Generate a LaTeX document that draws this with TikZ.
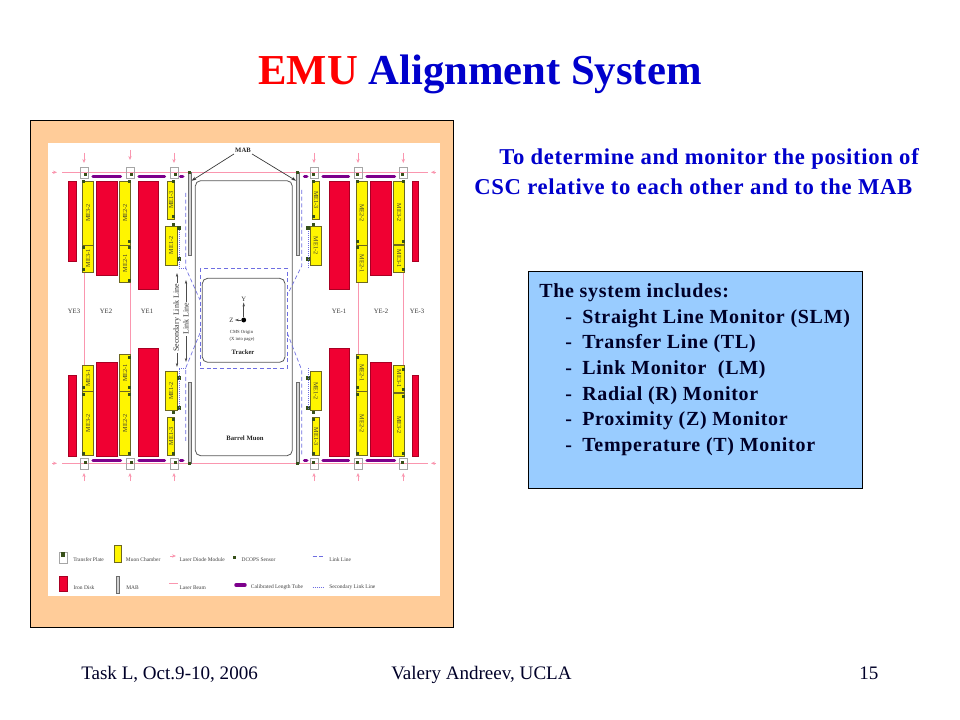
\documentclass[tikz,border=0pt]{standalone}
\usepackage{fontspec}
\setmainfont{Liberation Serif}
\usetikzlibrary{arrows.meta}
\definecolor{panelorange}{RGB}{255,204,153}
\definecolor{boxblue}{RGB}{153,204,255}
\definecolor{titlered}{RGB}{255,0,0}
\definecolor{titleblue}{RGB}{0,0,204}
\definecolor{inknavy}{RGB}{0,0,40}
\definecolor{diskred}{RGB}{240,0,50}
\definecolor{chamberyellow}{RGB}{255,245,0}
\definecolor{tubepurple}{RGB}{125,0,140}
\definecolor{beampink}{RGB}{250,150,175}
\definecolor{sensorgreen}{RGB}{55,80,25}
\definecolor{linkblue}{RGB}{110,110,225}
\tikzset{
  ironDisk/.style={fill=diskred,draw=diskred!70!black,line width=0.3pt},
  muonChamber/.style={fill=chamberyellow,draw=olive!70!black,line width=0.4pt},
  lengthTube/.style={draw=tubepurple,line width=2.6pt,line cap=round},
  laserBeam/.style={draw=beampink,line width=0.7pt},
  laserArrow/.style={draw=beampink,line width=0.7pt,-{Stealth[length=3pt,width=2.5pt]}},
  sensorSq/.style={fill=sensorgreen,draw=none},
  mabBar/.style={fill=gray!35,draw=gray!85!black,line width=0.4pt},
  plateBox/.style={draw=gray!70,line width=0.3pt},
  linkLine/.style={draw=linkblue,line width=0.5pt,densely dashed},
  secLine/.style={draw=linkblue,line width=0.5pt,densely dotted},
  wallBox/.style={draw=black!65,line width=0.6pt,rounded corners=4pt},
  tinyText/.style={inner sep=0pt,text=black!75,font=\fontsize{4.1}{5}\selectfont},
  originText/.style={inner sep=0pt,text=black!80,font=\fontsize{3.5}{4}\selectfont},
  smallText/.style={inner sep=0.75pt,text=black!80,font=\fontsize{5}{6}\selectfont},
  heavyText/.style={inner sep=0.75pt,text=black!85,font=\fontsize{5}{6}\bfseries\selectfont},
  sideText/.style={inner sep=0.75pt,text=black!80,rotate=90,font=\fontsize{6}{7}\selectfont},
  chamberText/.style={inner sep=0pt,text=black!80,font=\fontsize{4.6}{5}\selectfont},
  goalText/.style={anchor=base west,inner sep=0pt,text=titleblue,font=\fontsize{17}{19}\bfseries\selectfont\addfontfeature{LetterSpace=3}},
  listText/.style={anchor=base west,inner sep=0pt,text=inknavy,font=\fontsize{15}{17}\bfseries\selectfont\addfontfeature{LetterSpace=3.5}},
  footText/.style={anchor=base west,inner sep=0pt,text=inknavy,font=\fontsize{14.3}{16}\selectfont},
  leader/.style={draw=black!80,line width=0.5pt,-{Stealth[length=3.5pt,width=2.5pt]}},
  thinArrow/.style={draw=black!70,line width=0.4pt,-{Stealth[length=3pt,width=1.8pt]}}
}
\newcommand{\sensorAt}[2]{\fill [sensorSq] (#1-1.5,#2-1.5) rectangle (#1+1.5,#2+1.5);}
\newcommand{\bigSensorAt}[2]{\fill [sensorSq] (#1-2,#2-2) rectangle (#1+2,#2+2);}
\begin{document}
\begin{tikzpicture}[x=0.75pt,y=0.75pt,yscale=-1,xscale=1]
\useasboundingbox (0,0) rectangle (960,720);
\fill [white] (0,0) rectangle (960,720);
% title and side text
\node (titlenode) [anchor=base,inner sep=0pt,font=\fontsize{32}{36}\bfseries\selectfont] at (480,85) {\textcolor{titlered}{EMU} \textcolor{titleblue}{Alignment System}};
\node (goalone) [goalText] at (499,165) {To determine and monitor the position of};
\node (goaltwo) [goalText] at (474,195) {CSC relative to each other and to the MAB};
% panel
\draw [fill=panelorange,draw=black,line width=0.75pt] (30,121) rectangle (453,627);
\fill [white] (48,143) rectangle (440,596);
% beams
\draw [laserBeam] (62,172.3) -- (428,172.3);
\draw [laserBeam] (62,463.3) -- (428,463.3);
\draw [laserBeam] (84,272) -- (84,365);
\draw [laserBeam] (130,282) -- (130,354);
\draw [laserBeam] (358,282) -- (358,354);
\draw [laserBeam] (403.3,272) -- (403.3,365);
\draw [laserArrow] (52,172.3) -- (57,172.3);
\draw [laserArrow] (52,463.3) -- (57,463.3);
\draw [laserArrow] (436,172.3) -- (431,172.3);
\draw [laserArrow] (436,463.3) -- (431,463.3);
\draw [laserArrow] (84,153) -- (84,163);
\draw [laserArrow] (130,150) -- (130,160);
\draw [laserArrow] (174,153) -- (174,163);
\draw [laserArrow] (314,153) -- (314,163);
\draw [laserArrow] (358,153) -- (358,163);
\draw [laserArrow] (403.3,153) -- (403.3,163);
\draw [laserArrow] (84,481) -- (84,473);
\draw [laserArrow] (130,481) -- (130,473);
\draw [laserArrow] (174,481) -- (174,473);
\draw [laserArrow] (314,481) -- (314,473);
\draw [laserArrow] (358,481) -- (358,473);
\draw [laserArrow] (403.3,481) -- (403.3,473);
% iron disks
\draw [ironDisk] (68.3,181) rectangle (75.7,261);
\draw [ironDisk] (96,181) rectangle (117,275);
\draw [ironDisk] (137.7,181) rectangle (158.3,289);
\draw [ironDisk] (328.7,181) rectangle (349.3,289);
\draw [ironDisk] (370,181) rectangle (391,275);
\draw [ironDisk] (411.7,181) rectangle (418.3,261);
\draw [ironDisk] (68.3,375) rectangle (75.7,455.7);
\draw [ironDisk] (96,361.7) rectangle (117,455.7);
\draw [ironDisk] (137.7,348) rectangle (158.3,455.7);
\draw [ironDisk] (328.7,348) rectangle (349.3,455.7);
\draw [ironDisk] (370,361.7) rectangle (391,455.7);
\draw [ironDisk] (411.7,375) rectangle (418.3,455.7);
% chambers, top
\draw [muonChamber] (82.3,181) rectangle node (cA) [chamberText,rotate=90] {ME3-2} (93.7,245);
\draw [muonChamber] (82.3,245) rectangle node (cB) [chamberText,rotate=90] {ME3-1} (93.7,272);
\draw [muonChamber] (119.3,181) rectangle node (cC) [chamberText,rotate=90] {ME2-2} (130.7,245);
\draw [muonChamber] (119.3,245) rectangle node (cD) [chamberText,rotate=90] {ME2-1} (130.7,282);
\draw [muonChamber] (167.3,181) rectangle node (cE) [chamberText,rotate=90] {ME1-3} (174.7,219);
\draw [muonChamber] (165.3,226) rectangle node (cF) [chamberText,rotate=90] {ME1-2} (177,265);
\draw [muonChamber] (312.7,181) rectangle node (cG) [chamberText,rotate=-90] {ME1-3} (319.7,219);
\draw [muonChamber] (310.3,226) rectangle node (cH) [chamberText,rotate=-90] {ME1-2} (321.7,265);
\draw [muonChamber] (356.3,181) rectangle node (cI) [chamberText,rotate=-90] {ME2-2} (367.7,245);
\draw [muonChamber] (356.3,245) rectangle node (cJ) [chamberText,rotate=-90] {ME2-1} (367.7,282);
\draw [muonChamber] (393.3,181) rectangle node (cK) [chamberText,rotate=-90] {ME3-2} (404.7,244);
\draw [muonChamber] (393.3,245) rectangle node (cL) [chamberText,rotate=-90] {ME3-1} (404.7,272);
% chambers, bottom
\draw [muonChamber] (82.3,365.3) rectangle node (cM) [chamberText,rotate=90] {ME3-1} (93.7,391.3);
\draw [muonChamber] (82.3,391.3) rectangle node (cN) [chamberText,rotate=90] {ME3-2} (93.7,455.7);
\draw [muonChamber] (119.3,354.3) rectangle node (cO) [chamberText,rotate=90] {ME2-1} (130.7,391.3);
\draw [muonChamber] (119.3,391.3) rectangle node (cP) [chamberText,rotate=90] {ME2-2} (130.7,455.7);
\draw [muonChamber] (165.3,371.7) rectangle node (cQ) [chamberText,rotate=90] {ME1-2} (177,410.3);
\draw [muonChamber] (167.3,417.3) rectangle node (cR) [chamberText,rotate=90] {ME1-3} (174.7,455.7);
\draw [muonChamber] (310.3,371.7) rectangle node (cS) [chamberText,rotate=-90] {ME1-2} (321.7,410.3);
\draw [muonChamber] (312.7,417.3) rectangle node (cT) [chamberText,rotate=-90] {ME1-3} (319.7,455.7);
\draw [muonChamber] (356.3,354.3) rectangle node (cU) [chamberText,rotate=-90] {ME2-1} (367.7,391.3);
\draw [muonChamber] (356.3,391.3) rectangle node (cV) [chamberText,rotate=-90] {ME2-2} (367.7,455.7);
\draw [muonChamber] (393.3,365.3) rectangle node (cW) [chamberText,rotate=-90] {ME3-1} (404.7,392);
\draw [muonChamber] (393.3,393) rectangle node (cX) [chamberText,rotate=-90] {ME3-2} (404.7,456.5);
% calibrated tubes
\draw [lengthTube] (93,176.3) -- (120.5,176.3);
\draw [lengthTube] (139,176.3) -- (164.5,176.3);
\draw [lengthTube] (180.5,176.3) -- (182.8,176.3);
\draw [lengthTube] (304.5,176.3) -- (306.8,176.3);
\draw [lengthTube] (323,176.3) -- (348.5,176.3);
\draw [lengthTube] (367,176.3) -- (394.5,176.3);
\draw [lengthTube] (93,460.3) -- (120.5,460.3);
\draw [lengthTube] (139,460.3) -- (164.5,460.3);
\draw [lengthTube] (180.5,460.3) -- (182.8,460.3);
\draw [lengthTube] (304.5,460.3) -- (306.8,460.3);
\draw [lengthTube] (323,460.3) -- (348.5,460.3);
\draw [lengthTube] (367,460.3) -- (394.5,460.3);
% transfer plates
\draw [plateBox] (80,167.3) rectangle (88,178.7);
\draw [plateBox] (126,167.3) rectangle (134,178.7);
\draw [plateBox] (170,167.3) rectangle (178,178.7);
\draw [plateBox] (310,167.3) rectangle (318,178.7);
\draw [plateBox] (354,167.3) rectangle (362,178.7);
\draw [plateBox] (399.3,167.3) rectangle (407.3,178.7);
\draw [plateBox] (80,458) rectangle (88,469.5);
\draw [plateBox] (126,458) rectangle (134,469.5);
\draw [plateBox] (170,458) rectangle (178,469.5);
\draw [plateBox] (310,458) rectangle (318,469.5);
\draw [plateBox] (354,458) rectangle (362,469.5);
\draw [plateBox] (399.3,458) rectangle (407.3,469.5);
% sensors
\sensorAt{85}{175}\sensorAt{131}{175}\sensorAt{175}{175}\sensorAt{313}{175}\sensorAt{357}{175}\sensorAt{402}{175}
\sensorAt{85}{462}\sensorAt{131}{462}\sensorAt{175}{462}\sensorAt{313}{462}\sensorAt{357}{462}\sensorAt{402}{462}
\sensorAt{83.3}{182}\sensorAt{83.3}{248}\sensorAt{83.3}{270}
\sensorAt{129.3}{182}\sensorAt{129.3}{242}\sensorAt{129.3}{248}\sensorAt{129.3}{280.7}
\sensorAt{173.3}{182}\sensorAt{173.3}{217}\sensorAt{173.3}{224.7}
\sensorAt{313.7}{182}\sensorAt{313.7}{217}\sensorAt{313.7}{224.7}
\sensorAt{357.7}{182}\sensorAt{357.7}{242}\sensorAt{357.7}{248}
\sensorAt{403.3}{182}\sensorAt{403.3}{242}\sensorAt{403.3}{270}
\sensorAt{83.3}{387}\sensorAt{83.3}{394}\sensorAt{83.3}{453}
\sensorAt{129.3}{357}\sensorAt{129.3}{387}\sensorAt{129.3}{394}\sensorAt{129.3}{453}
\sensorAt{173.3}{412.5}\sensorAt{173.3}{419.5}\sensorAt{173.3}{453}
\sensorAt{313.7}{412.5}\sensorAt{313.7}{419.5}\sensorAt{313.7}{453}
\sensorAt{357.7}{357}\sensorAt{357.7}{387}\sensorAt{357.7}{394}\sensorAt{357.7}{453}
\sensorAt{403.3}{369}\sensorAt{403.3}{389}\sensorAt{403.3}{396}\sensorAt{403.3}{453}
\bigSensorAt{178.7}{228.3}\bigSensorAt{178.7}{259.3}
\bigSensorAt{308.3}{228.3}\bigSensorAt{308.3}{259.3}
\bigSensorAt{178.7}{377.5}\bigSensorAt{178.7}{408}
\bigSensorAt{308.3}{377.5}\bigSensorAt{308.3}{408}
% barrel and tracker
\draw [wallBox] (195.3,180.7) rectangle (292.3,455.7);
\draw [wallBox] (202.3,278.3) rectangle (285,362.3);
\draw [linkLine] (200,268.3) rectangle (287.3,368.3);
% link lines
\draw [linkLine] (185.7,193) -- (185.7,268) -- (200,300);
\draw [linkLine] (301.7,190) -- (301.7,266) -- (287.3,295);
\draw [linkLine] (200,333) -- (185.7,368) -- (185.7,443);
\draw [linkLine] (287.3,333) -- (301.7,370) -- (301.7,455);
\draw [secLine] (179,230) -- (179,268) -- (185.7,268);
\draw [secLine] (179,410) -- (179,368) -- (185.7,368);
\draw [secLine] (308,268) -- (308,230);
\draw [secLine] (308,368) -- (308,410);
% MAB bars
\draw [mabBar] (188,172) rectangle (191,255);
\draw [mabBar] (296.3,172) rectangle (299.3,255);
\draw [mabBar] (188,382) rectangle (191,463);
\draw [mabBar] (296.3,382) rectangle (299.3,463);
\sensorAt{189.7}{172.7}\sensorAt{297.8}{172.7}\sensorAt{189.7}{463.3}\sensorAt{297.8}{463.3}
% labels
\node (mablabel) [heavyText] at (243,150.5) {MAB};
\coordinate (mableft) at (191.7,180.7);
\coordinate (mabright) at (296,180.7);
\draw [leader] (mablabel.south west) -- (mableft);
\draw [leader] (mablabel.south east) -- (mabright);
\node (yeA) [smallText] at (74,311) {YE3};
\node (yeB) [smallText] at (106,311) {YE2};
\node (yeC) [smallText] at (147,311) {YE1};
\node (yeD) [smallText] at (339,311) {YE-1};
\node (yeE) [smallText] at (381,311) {YE-2};
\node (yeF) [smallText] at (417,311) {YE-3};
\node (seclink) [sideText] at (177,318) {Secondary Link Line};
\node (linkname) [sideText] at (186,319) {Link Line};
\coordinate (secup) at (177,273);
\coordinate (secdown) at (177,367);
\coordinate (linkup) at (186,280);
\coordinate (linkdown) at (186,362);
\draw [thinArrow] (seclink.east) -- (secup);
\draw [thinArrow] (seclink.west) -- (secdown);
\draw [thinArrow] (linkname.east) -- (linkup);
\draw [thinArrow] (linkname.west) -- (linkdown);
\node (origin) [circle,fill=black,inner sep=1.3pt] at (243.7,320) {};
\node (axisy) [smallText] at (243.7,299) {Y};
\node (axisz) [smallText] at (231.5,320) {Z};
\draw [thinArrow] (origin) -- (axisy);
\draw [thinArrow] (origin) -- (axisz);
\node (cmsname) [originText] at (241.5,332) {CMS Origin};
\node (cmspage) [originText] at (242,339) {(X into page)};
\node (tracker) [heavyText] at (243,352) {Tracker};
\node (barrel) [heavyText] at (245,438) {Barrel Muon};
% legend
\draw [plateBox,fill=white] (59,552) rectangle (66.7,563);
\fill [sensorgreen] (61,552) rectangle (65,557);
\node (legA) [tinyText,anchor=west] at (73,560) {Transfer Plate};
\draw [muonChamber] (114.3,545.3) rectangle (121.7,562.7);
\node (legB) [tinyText,anchor=west] at (125.7,560) {Muon Chamber};
\draw [laserArrow] (170,556) -- (176,556);
\node (legC) [tinyText,anchor=west] at (179.3,560) {Laser Diode Module};
\sensorAt{234.3}{557.3}
\node (legD) [tinyText,anchor=west] at (241.3,560) {DCOPS Sensor};
\draw [linkLine] (312.7,556) -- (325,556);
\node (legE) [tinyText,anchor=west] at (329,560) {Link Line};
\draw [ironDisk] (59.3,576) rectangle (66.7,591);
\node (legF) [tinyText,anchor=west] at (73.3,587.3) {Iron Disk};
\draw [mabBar] (116.3,576.7) rectangle (119.3,593.3);
\node (legG) [tinyText,anchor=west] at (126,587.3) {MAB};
\draw [laserBeam] (169.3,583.3) -- (178,583.3);
\node (legH) [tinyText,anchor=west] at (179.3,587.3) {Laser Beam};
\draw [lengthTube] (236,585) -- (245,585);
\node (legI) [tinyText,anchor=west] at (250.7,587.3) {Calibrated Length Tube};
\draw [secLine] (312.7,587.3) -- (323.3,587.3);
\node (legJ) [tinyText,anchor=west] at (329,587.3) {Secondary Link Line};
% system box
\draw [fill=boxblue,draw=black,line width=0.75pt] (528,272) rectangle (862,488);
\node (sysname) [listText] at (539,297.5) {The system includes:};
\node (dashA) [listText] at (565,323) {-};
\node (dashB) [listText] at (565,349) {-};
\node (dashC) [listText] at (565,374) {-};
\node (dashD) [listText] at (565,400) {-};
\node (dashE) [listText] at (565,425) {-};
\node (dashF) [listText] at (565,451) {-};
\node (itemA) [listText] at (582,323) {Straight Line Monitor (SLM)};
\node (itemB) [listText] at (582,349) {Transfer Line (TL)};
\node (itemC) [listText] at (582,374) {Link Monitor\ \ (LM)};
\node (itemD) [listText] at (582,400) {Radial (R) Monitor};
\node (itemE) [listText] at (582,425) {Proximity (Z) Monitor};
\node (itemF) [listText] at (582,451) {Temperature (T) Monitor};
% footer
\node (footA) [footText] at (81,679) {Task L, Oct.9-10, 2006};
\node (footB) [footText] at (391,679) {Valery Andreev, UCLA};
\node (footC) [footText] at (859,679) {15};
\end{tikzpicture}
\end{document}
